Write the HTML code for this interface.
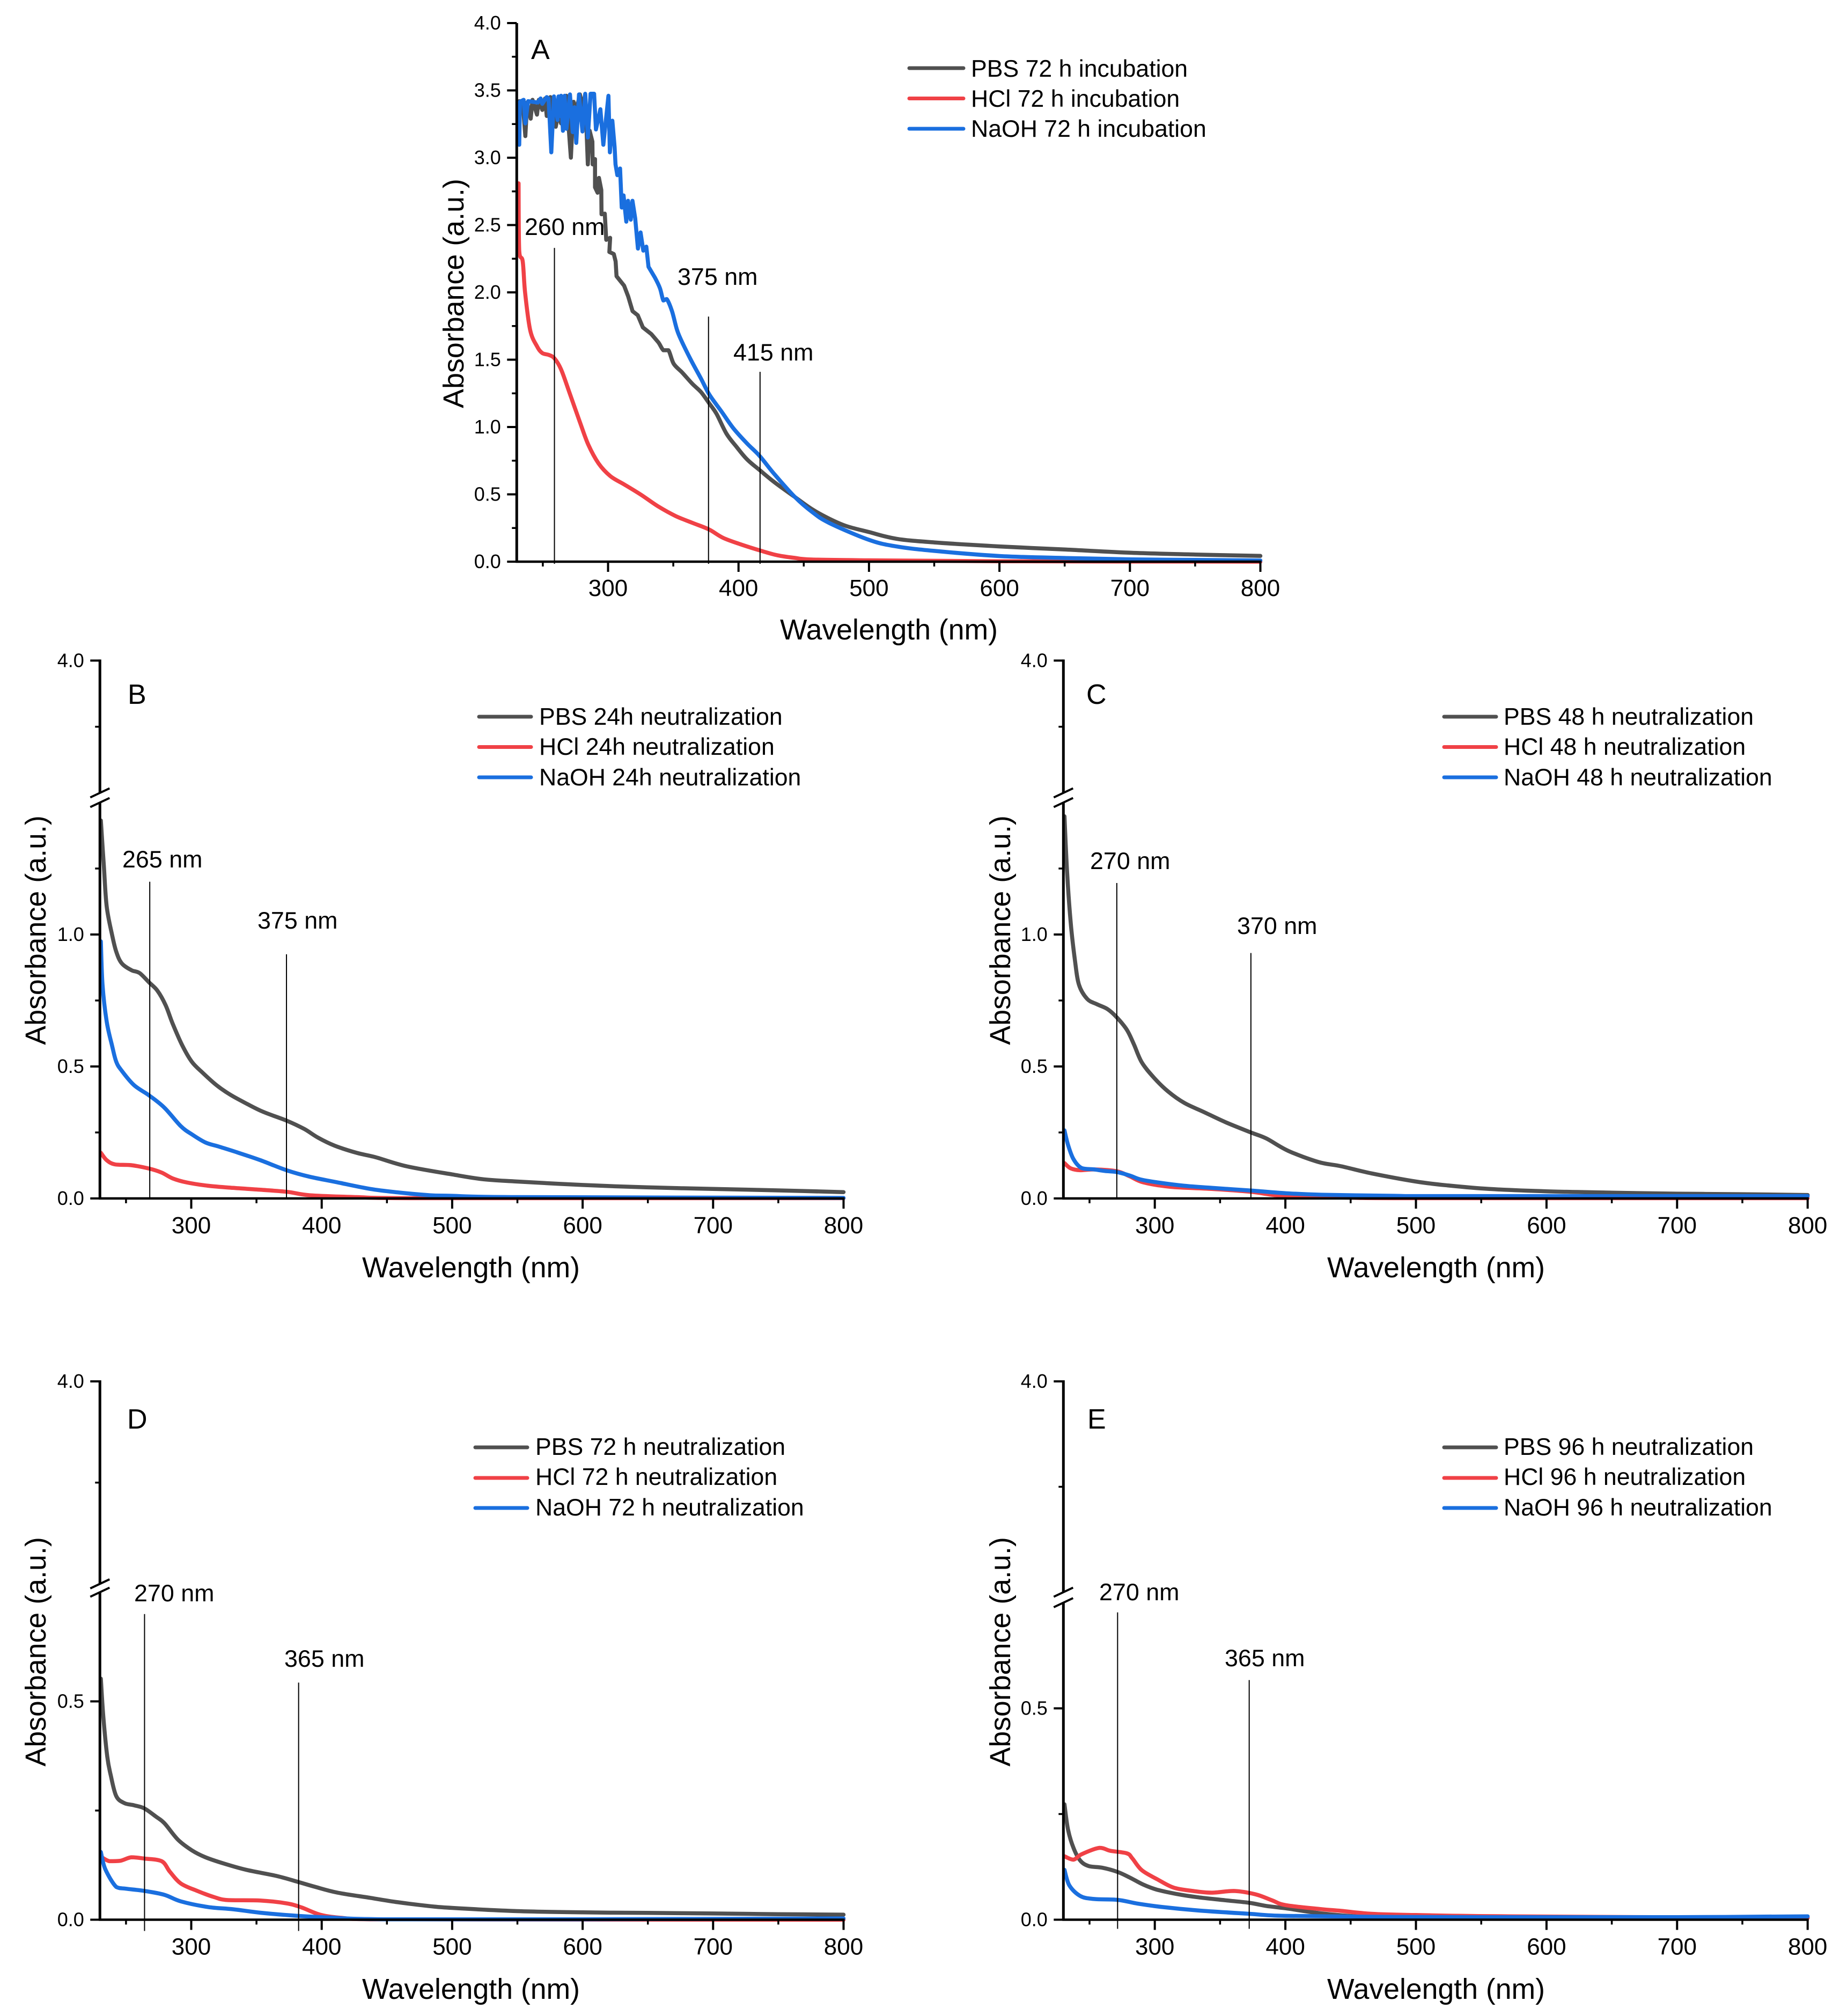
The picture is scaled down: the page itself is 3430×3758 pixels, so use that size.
<!DOCTYPE html>
<html lang="en">
<head>
<meta charset="utf-8">
<title>Absorbance spectra, panels A to E</title>
<style>
html,body{margin:0;padding:0;background:#fff;}
svg{display:block;}
text{font-family:"Liberation Sans",Arial,sans-serif;fill:#000;}
.leg{font-size:44.6px;}
.ann{font-size:44.8px;}
.let{font-size:52px;}
.xt{font-size:53.6px;text-anchor:middle;}
.yt{font-size:53.8px;text-anchor:middle;}
.tx{font-size:44px;text-anchor:middle;}
.ty{font-size:36px;text-anchor:end;}
</style>
</head>
<body>
<svg id="figure" xmlns="http://www.w3.org/2000/svg" width="3430" height="3758" viewBox="0 0 3430 3758">
<rect width="3430" height="3758" fill="#fff"/>

<g id="panel-a">
<text class="let" x="990" y="110">A</text>
<text class="xt" x="1657" y="1192">Wavelength (nm)</text>
<text class="yt" transform="translate(864 547) rotate(-90)">Absorbance (a.u.)</text>
<text class="ann" x="978" y="438">260 nm</text>
<text class="ann" x="1263" y="531">375 nm</text>
<text class="ann" x="1367" y="672">415 nm</text>
<g>
<line x1="1695" x2="1796" y1="127" y2="127" stroke="#505050" stroke-width="7" stroke-linecap="round"/>
<line x1="1695" x2="1796" y1="183.5" y2="183.5" stroke="#f04146" stroke-width="7" stroke-linecap="round"/>
<line x1="1695" x2="1796" y1="240" y2="240" stroke="#1a6fdf" stroke-width="7" stroke-linecap="round"/>
<text class="leg" x="1810" y="143">PBS 72 h incubation</text>
<text class="leg" x="1810" y="199">HCl 72 h incubation</text>
<text class="leg" x="1810" y="255">NaOH 72 h incubation</text>
</g>
</g>

<g id="panel-b">
<text class="let" x="238" y="1312">B</text>
<text class="xt" x="878" y="2381">Wavelength (nm)</text>
<text class="yt" transform="translate(85 1734) rotate(-90)">Absorbance (a.u.)</text>
<text class="ann" x="228" y="1617">265 nm</text>
<text class="ann" x="480" y="1731">375 nm</text>
<g>
<line x1="893" x2="990" y1="1336" y2="1336" stroke="#505050" stroke-width="7" stroke-linecap="round"/>
<line x1="893" x2="990" y1="1392.5" y2="1392.5" stroke="#f04146" stroke-width="7" stroke-linecap="round"/>
<line x1="893" x2="990" y1="1449" y2="1449" stroke="#1a6fdf" stroke-width="7" stroke-linecap="round"/>
<text class="leg" x="1005" y="1351">PBS 24h neutralization</text>
<text class="leg" x="1005" y="1407">HCl 24h neutralization</text>
<text class="leg" x="1005" y="1464">NaOH 24h neutralization</text>
</g>
</g>

<g id="panel-c">
<text class="let" x="2025" y="1312">C</text>
<text class="xt" x="2677" y="2381">Wavelength (nm)</text>
<text class="yt" transform="translate(1883 1734) rotate(-90)">Absorbance (a.u.)</text>
<text class="ann" x="2032" y="1620">270 nm</text>
<text class="ann" x="2306" y="1741">370 nm</text>
<g>
<line x1="2692" x2="2789" y1="1336" y2="1336" stroke="#505050" stroke-width="7" stroke-linecap="round"/>
<line x1="2692" x2="2789" y1="1392.5" y2="1392.5" stroke="#f04146" stroke-width="7" stroke-linecap="round"/>
<line x1="2692" x2="2789" y1="1449" y2="1449" stroke="#1a6fdf" stroke-width="7" stroke-linecap="round"/>
<text class="leg" x="2803" y="1351">PBS 48 h neutralization</text>
<text class="leg" x="2803" y="1407">HCl 48 h neutralization</text>
<text class="leg" x="2803" y="1464">NaOH 48 h neutralization</text>
</g>
</g>

<g id="panel-d">
<text class="let" x="237" y="2663">D</text>
<text class="xt" x="878" y="3726">Wavelength (nm)</text>
<text class="yt" transform="translate(85 3079) rotate(-90)">Absorbance (a.u.)</text>
<text class="ann" x="250" y="2985">270 nm</text>
<text class="ann" x="530" y="3107">365 nm</text>
<g>
<line x1="886" x2="983" y1="2698" y2="2698" stroke="#505050" stroke-width="7" stroke-linecap="round"/>
<line x1="886" x2="983" y1="2755" y2="2755" stroke="#f04146" stroke-width="7" stroke-linecap="round"/>
<line x1="886" x2="983" y1="2811" y2="2811" stroke="#1a6fdf" stroke-width="7" stroke-linecap="round"/>
<text class="leg" x="998" y="2712">PBS 72 h neutralization</text>
<text class="leg" x="998" y="2768">HCl 72 h neutralization</text>
<text class="leg" x="998" y="2825">NaOH 72 h neutralization</text>
</g>
</g>

<g id="panel-e">
<text class="let" x="2027" y="2663">E</text>
<text class="xt" x="2677" y="3726">Wavelength (nm)</text>
<text class="yt" transform="translate(1883 3079) rotate(-90)">Absorbance (a.u.)</text>
<text class="ann" x="2049" y="2983">270 nm</text>
<text class="ann" x="2283" y="3106">365 nm</text>
<g>
<line x1="2692" x2="2789" y1="2698" y2="2698" stroke="#505050" stroke-width="7" stroke-linecap="round"/>
<line x1="2692" x2="2789" y1="2755" y2="2755" stroke="#f04146" stroke-width="7" stroke-linecap="round"/>
<line x1="2692" x2="2789" y1="2811" y2="2811" stroke="#1a6fdf" stroke-width="7" stroke-linecap="round"/>
<text class="leg" x="2803" y="2712">PBS 96 h neutralization</text>
<text class="leg" x="2803" y="2768">HCl 96 h neutralization</text>
<text class="leg" x="2803" y="2825">NaOH 96 h neutralization</text>
</g>
</g>
</svg>

<script>
// ---------- shared tick labels ----------
const xMajorTicks = [300, 400, 500, 600, 700, 800];
const xMinorTicks = [250, 350, 450, 550, 650, 750];
const yMajorTicksFull = [0, 0.5, 1, 1.5, 2, 2.5, 3, 3.5, 4];
const yMinorTicksFull = [0.25, 0.75, 1.25, 1.75, 2.25, 2.75, 3.25, 3.75];
const yMajorLowerTall = [0, 0.5, 1];
const yMinorLowerTall = [0.25, 0.75, 1.25];
const yMajorLowerShort = [0, 0.5];
const yMinorLowerShort = [0.25];
const yMajorUpper = [4];
const yMinorUpper = [3.5];

// ---------- panel A data ----------
const aPbsWave = [231.9,234.6,236.6,238,240.7,242.1,245.5,246.9,249.6,251.7,253,255.8,259.9,262,264,268,271.5,273.6,275.6,278.4,280.4,282.5,284.5,285.9,288,288.2,290,290,292,293,294.8,295,297.5,298.6,301.6,301,304.4,305.8,306.5,312.3,315.4,318.8,322.8,326.7,333.2,338.5,342.4,346.3,350.3,356.8,364.7,371.2,377.2,383,390.8,398.7,406.5,416.2,427.5,443.2,456.3,469.4,482.5,500,521,550,600,651,701,750,800];
const aPbsAbs = [3.42,3.42,3.16,3.41,3.29,3.43,3.32,3.43,3.355,3.44,3.31,3.45,3.23,3.335,3.255,3.46,3,3.415,3.35,3.47,3.375,3.47,2.95,3.2,3.12,2.95,2.99,2.78,2.74,2.85,2.76,2.58,2.585,2.39,2.405,2.3,2.285,2.23,2.12,2.05,1.97,1.86,1.83,1.74,1.69,1.63,1.57,1.57,1.47,1.405,1.32,1.26,1.18,1.1,0.95,0.85,0.76,0.68,0.59,0.48,0.39,0.32,0.265,0.22,0.17,0.143,0.113,0.09,0.066,0.053,0.0425];
const aHclWave = [231.4,231.9,234.6,236.4,240.3,245.5,249.5,254.7,258.9,263.9,270.4,278.3,284.8,292.7,301.8,312.3,325.4,338.5,351.6,364.7,377.2,388.2,401.3,416.2,430,443.2,456.3,500,600,800];
const aHclAbs = [2.81,2.31,2.23,2,1.72,1.6,1.55,1.535,1.51,1.43,1.256,1.04,0.87,0.73,0.635,0.574,0.496,0.41,0.34,0.288,0.24,0.177,0.13,0.084,0.047,0.028,0.016,0.01,0.003,0];
const aNaohWave = [231.9,232.5,235.3,236.6,238.7,246.2,248.3,249.6,253,254.4,256.5,258.5,261.3,262,263.3,264,265.4,266.7,268.1,270.8,272.9,274.3,275.6,277.7,280.4,282.5,284.5,286.6,289.3,290.7,294.1,296.4,300.3,301.4,303.3,305,305.7,307.1,309.2,310.5,311.9,314,315.3,317.4,318.7,320.8,322.9,324.9,327,329.3,331,335.9,339.8,342.4,345,349,352.9,356.8,363.4,371.2,377.7,386.9,396.1,406.5,416.2,427.5,443.2,456.3,469.4,500,521,550,600,651,701,750,800];
const aNaohAbs = [3.096,3.415,3.43,3.255,3.42,3.41,3.44,3.4,3.45,3.44,3.04,3.455,3.28,3.455,3.31,3.46,3.2,3.46,3.215,3.47,3.19,3.375,3.11,3.47,3.195,3.475,3.15,3.475,3.475,3.21,3.36,3.096,3.46,3.04,3.275,3.08,2.95,2.87,2.92,2.63,2.72,2.525,2.68,2.54,2.68,2.55,2.325,2.445,2.31,2.34,2.19,2.11,2.03,1.94,1.95,1.86,1.72,1.63,1.5,1.36,1.24,1.116,0.99,0.878,0.785,0.65,0.48,0.37,0.288,0.162,0.113,0.08,0.042,0.027,0.017,0.013,0.009];
const aMarkerWave = [258.9, 377, 416.5];
const aMarkerTop = [2.33, 1.82, 1.41];

// ---------- panel B data ----------
const bPbsWave = [230.7,233,235.2,239.4,242.5,246.7,254.1,260.4,267.8,274.1,280.4,285.7,293.1,300.4,308.8,319.4,329.9,342.5,355.2,373.5,386.7,397.3,409.9,426.7,441.4,465,500,524,550,600,649,700,750,800];
const bPbsAbs = [1.432,1.26,1.106,0.997,0.935,0.891,0.865,0.854,0.818,0.787,0.732,0.663,0.58,0.518,0.476,0.429,0.393,0.359,0.328,0.294,0.263,0.23,0.2,0.173,0.156,0.122,0.091,0.0725,0.064,0.051,0.042,0.036,0.0305,0.024];
const bHclWave = [230.7,235.2,241.5,254,267.8,277.3,285.7,296.2,313,332,353,373.5,391,426.7,468.8,800];
const bHclAbs = [0.173,0.145,0.129,0.126,0.113,0.098,0.076,0.061,0.048,0.04,0.033,0.025,0.012,0.005,0.001,0.001];
const bNaohWave = [230.7,232,235.2,239.4,242.5,246.7,256.2,267.8,279.4,292,300.4,310.9,321.5,336.2,353,373.5,391,412,437.3,458.3,483,500,550,800];
const bNaohAbs = [0.974,0.81,0.67,0.577,0.518,0.484,0.429,0.39,0.344,0.274,0.243,0.212,0.196,0.173,0.145,0.106,0.082,0.061,0.036,0.023,0.012,0.01,0.005,0.002];
const bMarkerWave = [268.2, 373];
const bMarkerTop = [1.2, 0.925];

// ---------- panel C data ----------
const cPbsWave = [230.8,232.9,235.6,238.8,241.9,248.2,255.6,263.9,270.9,278.6,283.9,290.1,299.6,310,322.6,337.3,354.1,373.6,385.5,402.3,425.4,442.7,466,500,525,556,600,650,700,749,800];
const cPbsAbs = [1.448,1.23,1.044,0.904,0.81,0.756,0.736,0.717,0.686,0.639,0.585,0.515,0.456,0.406,0.362,0.328,0.289,0.25,0.227,0.18,0.138,0.122,0.095,0.064,0.049,0.036,0.027,0.022,0.018,0.016,0.013];
const cHclWave = [230.8,235.6,242.9,253.5,270.9,280.7,291.2,312.2,343.6,373.6,400,448,500,800];
const cHclAbs = [0.134,0.114,0.107,0.11,0.103,0.084,0.061,0.044,0.036,0.025,0.009,0.003,0.001,0.001];
const cNaohWave = [230.8,233.5,237.7,244,253.5,261.8,270.9,280.7,289,301.7,322.6,343.6,373.6,400,427.5,483.6,500,800];
const cNaohAbs = [0.258,0.204,0.149,0.115,0.11,0.104,0.1,0.087,0.072,0.061,0.048,0.04,0.03,0.02,0.014,0.01,0.009,0.009];
const cMarkerWave = [270.9, 373.6];
const cMarkerTop = [1.195, 0.93];

// ---------- panel D data ----------
const dPbsWave = [230.7,232.6,235.6,238.3,242.5,248.8,256.2,264,273,279.4,289.9,300.4,310.9,325.7,342.5,365.7,382.5,395.2,412,437.3,458.3,483.2,500,550,600,649,700,750,800];
const dPbsAbs = [0.552,0.465,0.374,0.331,0.283,0.267,0.262,0.255,0.236,0.221,0.183,0.159,0.143,0.128,0.114,0.1,0.086,0.075,0.062,0.05,0.04,0.031,0.027,0.0197,0.0168,0.0156,0.0143,0.0127,0.0115];
const dHclWave = [231.4,237.3,245.7,254.1,264,277.3,283.6,292,304.6,317.3,327.8,353,374.1,384.6,399.4,416,437,800];
const dHclAbs = [0.143,0.134,0.135,0.143,0.14,0.134,0.11,0.083,0.066,0.052,0.045,0.044,0.037,0.028,0.011,0.004,0.001,0];
const dNaohWave = [230.7,234.1,242.5,249.9,264,279.4,292,313,332,353,382.5,405.7,447.8,600,800];
const dNaohAbs = [0.155,0.116,0.075,0.071,0.066,0.057,0.042,0.029,0.024,0.016,0.0086,0.005,0.001,0.001,0.003];
const dMarkerWave = [264.2, 382.3];
const dMarkerTop = [0.7, 0.543];

// ---------- panel E data ----------
const ePbsWave = [230.8,233.5,237.7,242.9,249.3,259.7,271.5,280.7,291.2,301.7,316.4,333.1,354.1,372.3,385.5,400.2,427.5,458.9,483.6,800];
const ePbsAbs = [0.273,0.214,0.17,0.14,0.127,0.123,0.113,0.1,0.083,0.071,0.061,0.053,0.046,0.04,0.0325,0.027,0.015,0.007,0.005,0.004];
const eHclWave = [230.8,237.7,244,257.7,266,278.6,282.8,290.1,301.7,314.3,329,343.6,360.4,377.1,389.7,400.2,427.5,442.7,466,500,572,800];
const eHclAbs = [0.15,0.142,0.155,0.17,0.163,0.157,0.145,0.117,0.096,0.076,0.068,0.064,0.068,0.06,0.046,0.0345,0.025,0.021,0.014,0.011,0.008,0.004];
const eNaohWave = [230.8,234.6,243,253.5,271.5,287,305.9,333.1,372.3,400.2,483.6,600,700,800];
const eNaohAbs = [0.118,0.081,0.056,0.049,0.047,0.038,0.03,0.022,0.014,0.009,0.0065,0.006,0.006,0.008];
const eMarkerWave = [271.5, 372.3];
const eMarkerTop = [0.727, 0.567];

// ---------- layout (axis calibration only) ----------
const SVGNS = 'http://www.w3.org/2000/svg';
const COLORS = { pbs: '#505050', hcl: '#f04146', naoh: '#1a6fdf' };

function make(parent, tag, attrs) {
  const el = document.createElementNS(SVGNS, tag);
  for (const k in attrs) el.setAttribute(k, attrs[k]);
  parent.appendChild(el);
  return el;
}

function between(v, a, b) {
  return Math.max(Math.min(a, b), Math.min(Math.max(a, b), v));
}

// Straight segments through the noisy part (below noisyBelow nm), a gently
// rounded curve through the smooth remainder of the spectrum.
function seriesPath(xs, ys, wave, abs, noisyBelow) {
  const P = wave.map((w, i) => [xs(w), ys(abs[i])]);
  let d = 'M' + P[0][0].toFixed(1) + ' ' + P[0][1].toFixed(1);
  for (let i = 0; i < P.length - 1; i++) {
    const a = P[i], b = P[i + 1];
    if (wave[i] < noisyBelow) {
      d += 'L' + b[0].toFixed(1) + ' ' + b[1].toFixed(1);
      continue;
    }
    const p0 = P[Math.max(0, i - 1)], p3 = P[Math.min(P.length - 1, i + 2)];
    const c1x = between(a[0] + (b[0] - p0[0]) / 6, a[0], b[0]);
    const c1y = between(a[1] + (b[1] - p0[1]) / 6, a[1], b[1]);
    const c2x = between(b[0] - (p3[0] - a[0]) / 6, a[0], b[0]);
    const c2y = between(b[1] - (p3[1] - a[1]) / 6, a[1], b[1]);
    d += 'C' + c1x.toFixed(1) + ' ' + c1y.toFixed(1) + ' ' + c2x.toFixed(1) + ' ' + c2y.toFixed(1) + ' ' + b[0].toFixed(1) + ' ' + b[1].toFixed(1);
  }
  return d;
}

function drawSeries(g, xs, ys, wave, abs, color, name, noisyBelow) {
  const el = make(g, 'path', { d: seriesPath(xs, ys, wave, abs, noisyBelow), fill: 'none', stroke: color, 'stroke-width': 7.5, 'stroke-linejoin': 'round', 'stroke-linecap': 'round' });
  
  
}

function yTick(g, x, y, len, major, label) {
  const t = make(g, 'line', { x1: x - len, x2: x, y1: y, y2: y, stroke: '#000', 'stroke-width': major ? 4 : 3.5 });
  
  
  if (label !== null) {
    const l = make(g, 'text', { x: x - 29.5, y: y + 12, class: 'ty' });
    l.textContent = label;
    
    
  }
}

function drawPanel(p) {
  const g = document.getElementById(p.id);
  const xs = w => p.x300 + (w - 300) * p.k;
  const ys = v => p.y0 - v * p.yk;
  const upper = v => p.y4 + (4 - v) * (p.upperK || 0);
  const axisX = xs(230);

  // series
  const series = make(g, 'g', {});
  
  
  drawSeries(series, xs, ys, p.pbs[0], p.pbs[1], COLORS.pbs, 'series-pbs', p.noisyBelow || 0);
  drawSeries(series, xs, ys, p.hcl[0], p.hcl[1], COLORS.hcl, 'series-hcl', 0);
  drawSeries(series, xs, ys, p.naoh[0], p.naoh[1], COLORS.naoh, 'series-naoh', p.noisyBelow || 0);

  // wavelength marker lines
  p.markerWave.forEach((w, i) => {
    const m = make(g, 'line', { x1: xs(w), x2: xs(w), y1: ys(p.markerTop[i]), y2: p.y0 + p.markerDrop, stroke: '#000', 'stroke-width': 2 });
    
    
  });

  // x axis
  const xa = make(g, 'line', { x1: axisX - 2, x2: xs(800) + 2, y1: p.y0, y2: p.y0, stroke: '#000', 'stroke-width': 4.5 });
  
  
  xMajorTicks.forEach(w => {
    const t = make(g, 'line', { x1: xs(w), x2: xs(w), y1: p.y0, y2: p.y0 + 19, stroke: '#000', 'stroke-width': 4 });
    
    
    const l = make(g, 'text', { x: xs(w), y: p.y0 + p.xLabelDy, class: 'tx' });
    l.textContent = String(w);
    
    
  });
  xMinorTicks.forEach(w => {
    const t = make(g, 'line', { x1: xs(w), x2: xs(w), y1: p.y0, y2: p.y0 + 9, stroke: '#000', 'stroke-width': 3.5 });
    
    
  });

  // y axis
  const lowerTop = p.broken ? ys(p.lowerTop) : p.y4;
  const ya = make(g, 'line', { x1: axisX, x2: axisX, y1: lowerTop, y2: p.y0 + 2, stroke: '#000', 'stroke-width': 5 });
  
  
  p.yMajor.forEach(v => yTick(g, axisX, ys(v), 18, true, v.toFixed(1)));
  p.yMinor.forEach(v => yTick(g, axisX, ys(v), 9, false, null));

  if (p.broken) {
    const yb = upper(3);
    const yu = make(g, 'line', { x1: axisX, x2: axisX, y1: p.y4 - 2, y2: yb, stroke: '#000', 'stroke-width': 5 });
    
    
    yMajorUpper.forEach(v => yTick(g, axisX, upper(v), 18, true, v.toFixed(1)));
    yMinorUpper.forEach(v => yTick(g, axisX, upper(v), 9, false, null));
    [yb, lowerTop].forEach(yy => {
      const s = make(g, 'line', { x1: axisX - 18, x2: axisX + 18, y1: yy + 8.5, y2: yy - 8.5, stroke: '#000', 'stroke-width': 4 });
      
      
    });
  }
}

drawPanel({ id: 'panel-a', x300: 1133.5, k: 2.432, y0: 1047, yk: 251, y4: 43, broken: false, yMajor: yMajorTicksFull, yMinor: yMinorTicksFull, xLabelDy: 64, markerDrop: 4, noisyBelow: 335,
  pbs: [aPbsWave, aPbsAbs], hcl: [aHclWave, aHclAbs], naoh: [aNaohWave, aNaohAbs], markerWave: aMarkerWave, markerTop: aMarkerTop });
drawPanel({ id: 'panel-b', x300: 356.5, k: 2.432, y0: 2234, yk: 492, y4: 1231.4, upperK: 246.6, broken: true, lowerTop: 1.5, yMajor: yMajorLowerTall, yMinor: yMinorLowerTall, xLabelDy: 65, markerDrop: 0,
  pbs: [bPbsWave, bPbsAbs], hcl: [bHclWave, bHclAbs], naoh: [bNaohWave, bNaohAbs], markerWave: bMarkerWave, markerTop: bMarkerTop });
drawPanel({ id: 'panel-c', x300: 2152.7, k: 2.434, y0: 2234, yk: 492, y4: 1231.4, upperK: 246.6, broken: true, lowerTop: 1.5, yMajor: yMajorLowerTall, yMinor: yMinorLowerTall, xLabelDy: 65, markerDrop: 0,
  pbs: [cPbsWave, cPbsAbs], hcl: [cHclWave, cHclAbs], naoh: [cNaohWave, cNaohAbs], markerWave: cMarkerWave, markerTop: cMarkerTop });
drawPanel({ id: 'panel-d', x300: 356.5, k: 2.432, y0: 3578.5, yk: 814, y4: 2575, upperK: 377.4, broken: true, lowerTop: 0.75, yMajor: yMajorLowerShort, yMinor: yMinorLowerShort, xLabelDy: 65, markerDrop: 21,
  pbs: [dPbsWave, dPbsAbs], hcl: [dHclWave, dHclAbs], naoh: [dNaohWave, dNaohAbs], markerWave: dMarkerWave, markerTop: dMarkerTop });
drawPanel({ id: 'panel-e', x300: 2152.7, k: 2.434, y0: 3578.5, yk: 788, y4: 2575, upperK: 393, broken: true, lowerTop: 0.75, yMajor: yMajorLowerShort, yMinor: yMinorLowerShort, xLabelDy: 65, markerDrop: 17,
  pbs: [ePbsWave, ePbsAbs], hcl: [eHclWave, eHclAbs], naoh: [eNaohWave, eNaohAbs], markerWave: eMarkerWave, markerTop: eMarkerTop });
</script>
</body>
</html>
